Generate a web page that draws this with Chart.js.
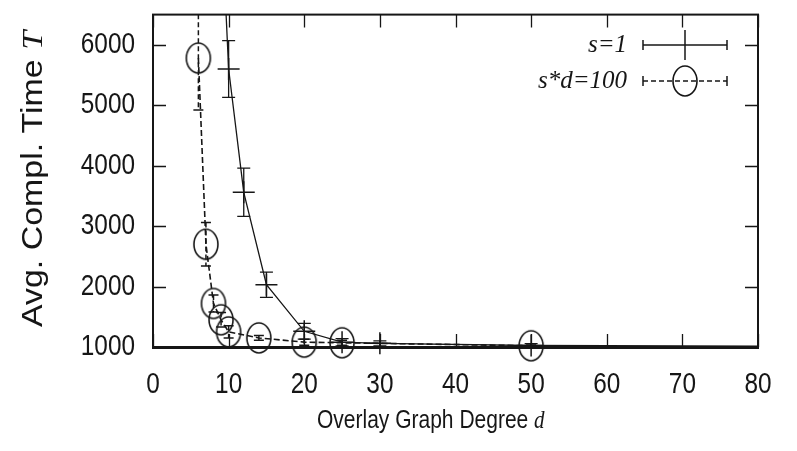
<!DOCTYPE html>
<html>
<head>
<meta charset="utf-8">
<script src="https://cdn.jsdelivr.net/npm/chart.js@4.4.1/dist/chart.umd.min.js"></script>
<style>
  html, body { margin: 0; padding: 0; background: #fff; }
  #wrap { width: 797px; height: 451px; position: relative; }
</style>
</head>
<body>
<div id="wrap"><canvas id="c" width="797" height="451"></canvas></div>
<script>
// ---- data ----
const seriesLabels = ['s=1', 's*d=100'];
const degS1 = [8, 10, 12, 15, 20, 25, 30, 50, 100];
const timeS1 = [11000, 5600, 3560, 2030, 1260, 1080, 1060, 1025, 1005];
const errS1 = [0, 470, 400, 210, 130, 60, 40, 30, 10];
const degS2 = [6, 7, 8, 9, 10, 14, 20, 25, 50];
const timeS2 = [5780, 2700, 1720, 1450, 1250, 1150, 1080, 1070, 1020];
const errS2 = [860, 360, 140, 120, 100, 40, 50, 40, 30];
const xTicks = [0, 10, 20, 30, 40, 50, 60, 70, 80];
const yTicks = [1000, 2000, 3000, 4000, 5000, 6000];
const xTitle = 'Overlay Graph Degree ';
const xTitleVar = 'd';
const yTitle = 'Avg. Compl. Time ';
const yTitleVar = 'T';

const INK = '#161616';
const SANS = "'Liberation Sans', Arial, sans-serif";
const SERIF_I = "'Liberation Serif', 'Times New Roman', serif";

// ellipse marker image
function makeEllipse(w, h) {
  const cv = document.createElement('canvas');
  cv.width = w + 4; cv.height = h + 4;
  const g = cv.getContext('2d');
  g.strokeStyle = INK; g.lineWidth = 1.6;
  g.beginPath();
  g.ellipse(cv.width / 2, cv.height / 2, w / 2, h / 2, 0, 0, Math.PI * 2);
  g.stroke();
  return cv;
}
const ellipseImg = makeEllipse(24, 30);

const pts = (xs, ys) => xs.map((x, i) => ({ x: x, y: ys[i] }));
const errors = [errS1, errS2];
const CONDENSE = 0.84;

const frameTicksPlugin = {
  id: 'frameTicks',
  beforeDatasetsDraw(chart) {
    const { ctx, chartArea: a, scales } = chart;
    // error bars
    ctx.save();
    ctx.beginPath();
    ctx.rect(0, a.top, chart.width, chart.height - a.top);
    ctx.clip();
    chart.data.datasets.forEach((ds, di) => {
      const err = errors[di];
      const dash = di === 0 ? [] : [5, 3];
      ctx.strokeStyle = INK;
      ctx.lineWidth = di === 0 ? 1.3 : 1.5;
      const cap = di === 0 ? 6.5 : 5;
      ds.data.forEach((p, i) => {
        if (!err[i]) return;
        const x = scales.x.getPixelForValue(p.x);
        if (x > a.right + 1) return;
        const y1 = scales.y.getPixelForValue(p.y + err[i]);
        const y2 = scales.y.getPixelForValue(p.y - err[i]);
        ctx.setLineDash(dash);
        ctx.beginPath();
        ctx.moveTo(x, y1); ctx.lineTo(x, y2);
        ctx.stroke();
        ctx.setLineDash([]);
        ctx.beginPath();
        ctx.moveTo(x - cap, y1); ctx.lineTo(x + cap, y1);
        ctx.moveTo(x - cap, y2); ctx.lineTo(x + cap, y2);
        ctx.stroke();
      });
    });
    ctx.restore();
  },
  afterDraw(chart) {
    const { ctx, chartArea: a, scales } = chart;
    ctx.save();
    ctx.strokeStyle = INK;
    ctx.lineWidth = 1.3;
    const tl = 13;
    scales.x.ticks.forEach(t => {
      const x = Math.round(scales.x.getPixelForValue(t.value)) + 0.5;
      ctx.beginPath();
      ctx.moveTo(x, a.bottom); ctx.lineTo(x, a.bottom - tl);
      ctx.moveTo(x, a.top); ctx.lineTo(x, a.top + tl);
      ctx.stroke();
    });
    scales.y.ticks.forEach(t => {
      const y = Math.round(scales.y.getPixelForValue(t.value)) + 0.5;
      ctx.beginPath();
      ctx.moveTo(a.left, y); ctx.lineTo(a.left + tl, y);
      ctx.moveTo(a.right, y); ctx.lineTo(a.right - tl, y);
      ctx.stroke();
    });
    // frame
    ctx.lineWidth = 2;
    ctx.strokeRect(a.left, a.top, a.right - a.left, a.bottom - a.top);
    ctx.lineWidth = 3;
    ctx.beginPath();
    ctx.moveTo(a.left - 1, a.bottom + 0.5); ctx.lineTo(a.right + 1, a.bottom + 0.5);
    ctx.stroke();

    // tick labels (condensed, positioned by the scales)
    ctx.fillStyle = INK;
    ctx.font = '29px ' + SANS;
    ctx.textBaseline = 'middle';
    scales.x.ticks.forEach(t => {
      const x = scales.x.getPixelForValue(t.value);
      ctx.save();
      ctx.translate(x, 385);
      ctx.scale(CONDENSE, 1);
      ctx.textAlign = 'center';
      ctx.fillText(String(t.value), 0, 0);
      ctx.restore();
    });
    scales.y.ticks.forEach(t => {
      const y = scales.y.getPixelForValue(t.value);
      ctx.save();
      ctx.translate(135, y);
      ctx.scale(CONDENSE, 1);
      ctx.textAlign = 'right';
      ctx.fillText(String(t.value), 0, 0);
      ctx.restore();
    });

    // legend
    const rows = [45, 81];
    const textRight = 627, l0 = 643, l1 = 727, lc = 685;
    chart.data.datasets.forEach((ds, di) => {
      const y = rows[di];
      ctx.fillStyle = INK;
      ctx.font = 'italic 25px ' + SERIF_I;
      ctx.textAlign = 'right';
      ctx.textBaseline = 'middle';
      ctx.fillText(ds.label, textRight, y);
      ctx.strokeStyle = INK;
      ctx.lineWidth = 1.5;
      ctx.setLineDash(di === 0 ? [] : [5, 3]);
      ctx.beginPath();
      ctx.moveTo(l0, y); ctx.lineTo(l1, y);
      ctx.stroke();
      ctx.setLineDash([]);
      ctx.beginPath();
      ctx.moveTo(l0, y - 5); ctx.lineTo(l0, y + 5);
      ctx.moveTo(l1, y - 5); ctx.lineTo(l1, y + 5);
      ctx.stroke();
      if (di === 0) {
        ctx.beginPath();
        ctx.moveTo(lc, y - 15); ctx.lineTo(lc, y + 15);
        ctx.stroke();
      } else {
        ctx.drawImage(ellipseImg, lc - ellipseImg.width / 2, y - ellipseImg.height / 2);
      }
    });

    // axis titles
    ctx.fillStyle = INK;
    ctx.textBaseline = 'alphabetic';
    ctx.textAlign = 'left';
    ctx.save();
    ctx.translate(317, 428);
    ctx.scale(CONDENSE, 1);
    ctx.font = '25px ' + SANS;
    ctx.fillText(xTitle, 0, 0);
    const w1 = ctx.measureText(xTitle).width;
    ctx.font = 'italic 25px ' + SERIF_I;
    ctx.fillText(xTitleVar, w1, 0);
    ctx.restore();

    ctx.save();
    const yf = 29;
    ctx.font = yf + 'px ' + SANS;
    const wy = ctx.measureText(yTitle).width;
    ctx.font = 'italic ' + yf + 'px ' + SERIF_I;
    const wv = ctx.measureText(yTitleVar).width;
    const sc = 1.17;
    const total = (wy + wv) * sc;
    ctx.translate(42, 179 + total / 2);
    ctx.rotate(-Math.PI / 2);
    ctx.scale(sc, 1);
    ctx.font = yf + 'px ' + SANS;
    ctx.fillText(yTitle, 0, 0);
    ctx.font = 'italic ' + yf + 'px ' + SERIF_I;
    ctx.fillText(yTitleVar, wy, 0);
    ctx.restore();
    ctx.restore();
  }
};

const clipSides = { left: false, top: 0, right: 0, bottom: false };

new Chart(document.getElementById('c'), {
  type: 'scatter',
  data: {
    datasets: [
      {
        label: seriesLabels[0],
        data: pts(degS1, timeS1),
        showLine: true,
        borderColor: INK,
        borderWidth: 1.3,
        pointStyle: 'cross',
        pointRadius: 11,
        pointBorderWidth: 1.5,
        pointBorderColor: INK,
        pointBackgroundColor: 'rgba(0,0,0,0)',
        clip: clipSides,
        order: 1
      },
      {
        label: seriesLabels[1],
        data: pts(degS2, timeS2),
        showLine: true,
        borderColor: INK,
        borderWidth: 1.6,
        borderDash: [6, 3],
        pointStyle: ellipseImg,
        pointRadius: 13,
        pointBorderColor: INK,
        clip: clipSides,
        order: 0
      }
    ]
  },
  options: {
    responsive: false,
    animation: false,
    devicePixelRatio: 1,
    layout: { padding: { top: 11, right: 39, left: 0, bottom: 0 } },
    plugins: { legend: { display: false }, tooltip: { enabled: false }, title: { display: false } },
    scales: {
      x: {
        type: 'linear',
        min: xTicks[0], max: xTicks[xTicks.length - 1],
        grid: { display: false, drawTicks: false },
        border: { display: false },
        afterBuildTicks: (s) => { s.ticks = xTicks.map(v => ({ value: v })); },
        afterFit: (s) => { s.height = 104; s.paddingLeft = 0; s.paddingRight = 0; },
        ticks: { display: false }
      },
      y: {
        type: 'linear',
        min: 1000, max: 6500,
        grid: { display: false, drawTicks: false },
        border: { display: false },
        afterBuildTicks: (s) => { s.ticks = yTicks.map(v => ({ value: v })); },
        afterFit: (s) => { s.width = 153; s.paddingTop = 0; s.paddingBottom = 0; },
        ticks: { display: false }
      }
    }
  },
  plugins: [frameTicksPlugin]
});
</script>
</body>
</html>
